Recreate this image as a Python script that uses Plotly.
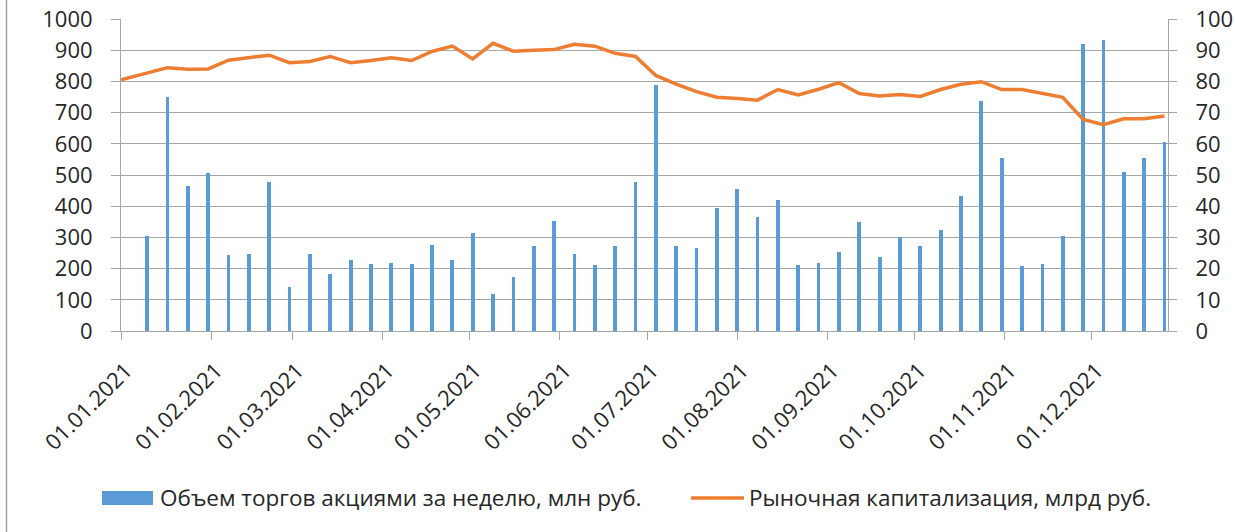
import plotly.graph_objects as go

dates = [
    "2021-01-01", "2021-01-10", "2021-01-17", "2021-01-24", "2021-01-31",
    "2021-02-07", "2021-02-14", "2021-02-21", "2021-02-28",
    "2021-03-07", "2021-03-14", "2021-03-21", "2021-03-28",
    "2021-04-04", "2021-04-11", "2021-04-18", "2021-04-25",
    "2021-05-02", "2021-05-09", "2021-05-16", "2021-05-23", "2021-05-30",
    "2021-06-06", "2021-06-13", "2021-06-20", "2021-06-27",
    "2021-07-04", "2021-07-11", "2021-07-18", "2021-07-25",
    "2021-08-01", "2021-08-08", "2021-08-15", "2021-08-22", "2021-08-29",
    "2021-09-05", "2021-09-12", "2021-09-19", "2021-09-26",
    "2021-10-03", "2021-10-10", "2021-10-17", "2021-10-24", "2021-10-31",
    "2021-11-07", "2021-11-14", "2021-11-21", "2021-11-28",
    "2021-12-05", "2021-12-12", "2021-12-19", "2021-12-26",
]

volume = [
    0, 306, 751, 466, 508,
    244, 248, 479, 142,
    248, 183, 229, 216,
    219, 216, 277, 229,
    315, 118, 174, 274, 352,
    248, 212, 274, 479,
    787, 274, 265, 393,
    455, 364, 421, 212, 219,
    252, 348, 236, 300,
    274, 323, 434, 738, 553,
    207, 215, 306, 920,
    932, 511, 553, 606,
]

capitalization = [
    80.5, 82.6, 84.4, 83.9, 84.0,
    86.8, 87.6, 88.4, 86.0,
    86.4, 88.0, 86.0, 86.7,
    87.6, 86.7, 89.6, 91.3,
    87.2, 92.2, 89.7, 90.0, 90.2,
    91.9, 91.3, 89.0, 88.0,
    81.9, 79.1, 76.7, 74.9,
    74.5, 74.0, 77.4, 75.7, 77.5,
    79.6, 76.1, 75.3, 75.8,
    75.2, 77.4, 79.1, 79.9, 77.4,
    77.4, 76.1, 74.9, 67.8,
    66.1, 68.0, 68.0, 68.9,
]

name_volume = "Объем торгов акциями за неделю, млн руб."
name_cap = "Рыночная капитализация, млрд руб."

BAR_COLOR = "#5B9BD5"
LINE_COLOR = "#ED7D31"
GRID = "#A6A6A6"
TEXT = "#262626"
FONT = "Open Sans"
FS = 22
FS_LEG = 22.5

W, H = 1235, 532
ML, MR, MT, MB = 121, 67, 19, 201
PW = W - ML - MR
PH = H - MT - MB


def px_x(px):
    return (px - ML) / PW


def px_y(py):
    return (H - MB - py) / PH


fig = go.Figure()
fig.add_trace(go.Bar(
    x=dates, y=volume, name=name_volume,
    marker=dict(color=BAR_COLOR, line=dict(width=0)),
    width=1.3 * 86400000, showlegend=False,
))
fig.add_trace(go.Scatter(
    x=dates, y=capitalization, name=name_cap, yaxis="y2",
    mode="lines", line=dict(color=LINE_COLOR, width=3.5),
    showlegend=False,
))

axis_font = dict(family=FONT, size=FS, color=TEXT)

fig.update_layout(
    width=W, height=H,
    margin=dict(l=ML, r=MR, t=MT, b=MB, autoexpand=False),
    paper_bgcolor="white", plot_bgcolor="white",
    font=dict(family=FONT, color=TEXT),
    bargap=0,
    xaxis=dict(
        type="date", automargin=False,
        range=["2021-01-01", "2021-12-27 05:00"],
        tick0="2021-01-01", dtick="M1", tickformat="%d.%m.%Y",
        tickangle=-45, tickfont=axis_font,
        showgrid=False, showline=True, linecolor=GRID, linewidth=1,
        ticks="outside", ticklen=8, tickcolor=GRID,
        ticklabelstandoff=9, ticklabelshift=5,
    ),
    yaxis=dict(
        range=[0, 1000], dtick=100, tickfont=axis_font, automargin=False,
        showgrid=True, gridcolor=GRID, gridwidth=1,
        showline=True, linecolor=GRID, linewidth=1,
        ticks="outside", ticklen=9, tickcolor=GRID,
        zeroline=False, ticklabelstandoff=14,
    ),
    yaxis2=dict(
        range=[0, 100], dtick=10, tickfont=axis_font, automargin=False,
        overlaying="y", side="right", showgrid=False,
        showline=True, linecolor=GRID, linewidth=1,
        ticks="outside", ticklen=8, tickcolor=GRID,
        zeroline=False, ticklabelstandoff=14,
    ),
)

# chart border (left edge visible)
fig.add_shape(type="line", xref="paper", yref="paper",
              x0=px_x(6.5), x1=px_x(6.5), y0=px_y(0), y1=px_y(H),
              line=dict(color="#A0A0A0", width=1.5))

# custom legend
ly = 498
fig.add_shape(type="rect", xref="paper", yref="paper",
              x0=px_x(102), x1=px_x(153), y0=px_y(505), y1=px_y(491),
              fillcolor=BAR_COLOR, line=dict(width=0))
fig.add_annotation(xref="paper", yref="paper", x=px_x(158), y=px_y(ly),
                   xanchor="left", yanchor="middle", showarrow=False,
                   text=name_volume, font=dict(family=FONT, size=FS_LEG, color=TEXT))
fig.add_shape(type="line", xref="paper", yref="paper",
              x0=px_x(691), x1=px_x(744), y0=px_y(ly), y1=px_y(ly),
              line=dict(color=LINE_COLOR, width=3.5))
fig.add_annotation(xref="paper", yref="paper", x=px_x(747), y=px_y(ly),
                   xanchor="left", yanchor="middle", showarrow=False,
                   text=name_cap, font=dict(family=FONT, size=FS_LEG, color=TEXT))

fig.write_html("out.html", config={"displayModeBar": False},
               post_script="document.body.style.margin='0';")
